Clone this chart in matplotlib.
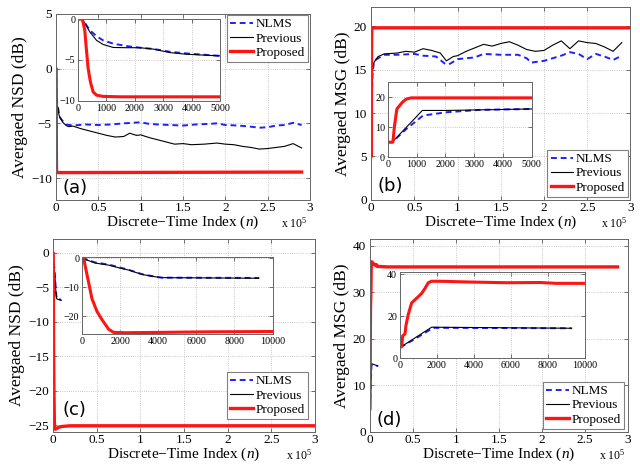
import numpy as np
import matplotlib
matplotlib.use("Agg")
import matplotlib.pyplot as plt
from matplotlib.ticker import FuncFormatter

plt.rcParams['font.family'] = ['Liberation Serif', 'DejaVu Serif']
plt.rcParams['mathtext.fontset'] = 'custom'
plt.rcParams['mathtext.rm'] = 'Liberation Serif'
plt.rcParams['mathtext.it'] = 'Liberation Serif:italic'

# ---- (a) NSD, first scenario ----
a_nlms_n = [0, 150, 410, 650, 880, 1235, 1700, 2175, 2650, 3235, 3820, 4400, 5000, 8000, 12000,
            20000, 35000, 50000, 65000, 80000, 90000, 100000, 110000, 120000, 135000, 150000,
            165000, 180000, 190000, 200000, 215000, 230000, 240000, 250000, 260000, 270000,
            280000, 290000]
a_nlms_v = [0, 0, -1.35, -2.1, -2.6, -3.0, -3.3, -3.5, -3.65, -4.0, -4.2, -4.35, -4.5, -4.8, -5.1,
            -5.2, -5.1, -5.15, -5.1, -5.0, -4.95, -4.9, -5.05, -5.1, -5.15, -5.2,
            -5.1, -5.05, -5.0, -5.15, -5.2, -5.3, -5.4, -5.35, -5.2, -5.15,
            -4.95, -5.15]
a_prev_n = [0, 150, 410, 650, 880, 1235, 1700, 2175, 2650, 3235, 3820, 4400, 5000, 8000, 12000,
            15000, 20000, 30000, 40000, 50000, 60000, 70000, 80000, 87000, 95000, 100000, 110000,
            125000, 140000, 150000, 160000, 175000, 190000, 200000, 210000, 220000, 230000,
            240000, 250000, 260000, 270000, 280000, 290000]
a_prev_v = [0, 0, -1.55, -2.6, -3.1, -3.47, -3.5, -3.5, -3.67, -4.1, -4.3, -4.4, -4.5, -4.9, -5.2,
            -5.3, -5.25, -5.5, -5.7, -5.9, -6.1, -6.25, -6.2, -5.9, -6.1, -6.05, -6.3,
            -6.6, -6.9, -6.85, -6.95, -6.9, -6.8, -6.9, -6.95, -7.1, -7.2,
            -7.35, -7.3, -7.2, -7.1, -6.85, -7.25]
a_prop_n = [0, 150, 235, 295, 353, 435, 530, 650, 880, 1500, 5000, 290000]
a_prop_v = [0, 0, -1.35, -3.8, -6.0, -7.7, -8.9, -9.3, -9.45, -9.5, -9.5, -9.45]

# ---- (b) MSG, first scenario ----
b_nlms_n = [0, 150, 640, 1221, 2035, 3200, 5000, 8000, 15000, 30000, 50000, 60000, 75000, 85000,
            90000, 100000, 120000, 130000, 150000, 170000, 180000, 185000, 200000, 210000,
            220000, 230000, 240000, 250000, 260000, 270000, 280000, 290000]
b_nlms_v = [5, 5, 9.4, 13.9, 15.0, 15.8, 16.1, 16.3, 16.7, 16.7, 16.8, 16.6, 16.5, 15.7,
            15.6, 16.2, 16.4, 16.8, 16.7, 16.7, 16.3, 15.8, 16.0, 16.3,
            16.6, 17.0, 16.8, 16.2, 16.8, 16.5, 16.1, 16.6]
b_prev_n = [0, 150, 1198, 2035, 5000, 8000, 15000, 30000, 40000, 50000, 60000, 70000, 80000,
            87000, 95000, 100000, 110000, 120000, 130000, 140000, 150000, 160000, 170000,
            180000, 190000, 200000, 210000, 220000, 230000, 240000, 250000, 260000, 270000,
            280000, 290000]
b_prev_v = [5, 5, 15.6, 15.6, 16.1, 16.5, 16.8, 16.9, 17.1, 17.0, 17.4, 17.2, 16.9,
            16.0, 16.5, 16.6, 17.1, 17.5, 17.9, 17.7, 18.0, 18.2, 17.8,
            17.3, 17.1, 17.2, 17.8, 18.3, 17.4, 18.3, 18.1, 18.0, 17.6,
            17.1, 18.1]
b_prop_n = [0, 175, 233, 314, 407, 500, 640, 814, 5000, 300000]
b_prop_v = [5, 5, 10.6, 16.1, 17.2, 18.3, 19.4, 19.8, 19.8, 19.8]

# ---- (c) NSD, second scenario ----
c_nlms_n = [0, 700, 1400, 1925, 2450, 3150, 3850, 4200, 9280]
c_nlms_v = [0, -1.5, -2.2, -3.1, -4.0, -5.5, -6.4, -6.7, -6.8]
c_prev_n = [0, 700, 1400, 1925, 2450, 3150, 3850, 4200, 9280]
c_prev_v = [0, -1.7, -2.4, -3.3, -4.1, -5.6, -6.4, -6.7, -6.9]
c_prop_n = [0, 90, 175, 350, 525, 790, 1050, 1400, 1660, 2280, 4030, 6650, 10000, 20000, 300000]
c_prop_v = [0, 0, -2.8, -8.3, -13.9, -18.3, -21.1, -24.4, -25.5, -25.6, -25.5, -25.3, -25.2,
            -25.1, -25.1]

# ---- (d) MSG, second scenario ----
d_nlms_n = [0, 900, 1530, 1800, 9280]
d_nlms_v = [5, 9.6, 13.0, 14.4, 14.2]
d_prev_n = [0, 1710, 9280]
d_prev_v = [5, 14.7, 14.2]
d_prop_n = [0, 90, 145, 270, 325, 450, 630, 900, 1170, 1350, 1530, 1710, 2160, 3960, 5770,
            7570, 8470, 10000, 20000, 288000]
d_prop_v = [5, 5.5, 10.6, 11.5, 15.7, 20.9, 26.3, 28.5, 30.8, 33.2, 35.9, 36.6, 36.6, 36.2, 35.9,
            36.0, 35.6, 35.6, 35.5, 35.5]

labels = ['NLMS', 'Previous', 'Proposed']


def draw_lines(ax, data, red_lw=2.4):
    (nn, nv), (pn, pv), (rn, rv) = data
    ax.plot(nn, nv, color='#1f1fff', ls='--', dashes=(3, 2), lw=1.4, label=labels[0])
    ax.plot(pn, pv, color='black', lw=0.8, label=labels[1])
    ax.plot(rn, rv, color='#ff1414', lw=red_lw, label=labels[2])


def style_axes(ax, size):
    ax.grid(True, ls=':', color='0.72', lw=0.6)
    ax.tick_params(direction='in', top=True, right=True, labelsize=size, length=3,
                   width=0.6, color='0.35', pad=3)
    for s in ax.spines.values():
        s.set_color('0.4')
        s.set_linewidth(0.7)


fig = plt.figure(figsize=(6.4, 4.65), dpi=100)

panels = [
    # main rect, ylim, yticks, inset rect, inset xlim, inset ylim, inset yticks, legend, tag pos
    ([0.0875, 0.570, 0.397, 0.400], (-12, 5), [-10, -5, 0, 5],
     [0.122, 0.783, 0.222, 0.176], 5000, (-10, 0), [-10, -5, 0],
     ('upper right', (0.992, 0.995)), (0.024, 0.016), '(a)', 'Avergaed NSD (dB)',
     [(a_nlms_n, a_nlms_v), (a_prev_n, a_prev_v), (a_prop_n, a_prop_v)]),
    ([0.580, 0.570, 0.405, 0.415], (0, 22.2), [0, 5, 10, 15, 20],
     [0.606, 0.662, 0.225, 0.161], 5000, (0, 25), [0, 10, 20],
     ('lower right', (0.992, 0.016)), (0.023, 0.026), '(b)', 'Avergaed MSG (dB)',
     [(b_nlms_n, b_nlms_v), (b_prev_n, b_prev_v), (b_prop_n, b_prop_v)]),
    ([0.083, 0.071, 0.409, 0.415], (-26, 2), [-25, -20, -15, -10, -5, 0],
     [0.128, 0.282, 0.298, 0.166], 10000, (-26, 0.5), [-20, -10, 0],
     ('lower right', (0.973, 0.067)), (0.034, 0.067), '(c)', 'Avergaed NSD (dB)',
     [(c_nlms_n, c_nlms_v), (c_prev_n, c_prev_v), (c_prop_n, c_prop_v)]),
    ([0.578, 0.071, 0.403, 0.415], (0, 41.5), [0, 10, 20, 30, 40],
     [0.625, 0.230, 0.289, 0.185], 10000, (0, 41), [0, 20, 40],
     ('lower right', (0.984, 0.016)), (0.027, 0.016), '(d)', 'Avergaed MSG (dB)',
     [(d_nlms_n, d_nlms_v), (d_prev_n, d_prev_v), (d_prop_n, d_prop_v)]),
]

xfmt = FuncFormatter(lambda v, p: f'{v / 1e5:g}')

for rect, ylim, yticks, irect, ixmax, iylim, iyticks, leg, tagpos, tag, ylabel, data in panels:
    ax = fig.add_axes(rect)
    draw_lines(ax, data)
    ax.set_xlim(0, 3e5)
    ax.set_ylim(*ylim)
    ax.set_xticks(np.arange(0, 3.01e5, 0.5e5))
    ax.set_yticks(yticks)
    ax.xaxis.set_major_formatter(xfmt)
    style_axes(ax, 9.5)
    ax.tick_params(axis='x', pad=1.5)
    ax.set_xlabel('Discrete\u2212Time Index ($n$)', fontsize=11, labelpad=0)
    ax.set_ylabel(ylabel, fontsize=12.5, labelpad=2)
    ax.text(0.99, -0.085, 'x 10$^5$', transform=ax.transAxes, ha='right', va='top', fontsize=8.5)
    ax.text(tagpos[0], tagpos[1], tag, transform=ax.transAxes, ha='left', va='bottom',
            fontsize=13, family='DejaVu Sans')
    lg = ax.legend(loc=leg[0], bbox_to_anchor=leg[1], fontsize=9.5, fancybox=False,
                   edgecolor='0.5', framealpha=1, borderaxespad=0, handlelength=1.7,
                   handletextpad=0.2, labelspacing=0.15, borderpad=0.25)
    lg.get_frame().set_linewidth(0.8)

    axi = fig.add_axes(irect)
    draw_lines(axi, data, red_lw=2.2)
    axi.set_xlim(0, ixmax)
    axi.set_ylim(*iylim)
    axi.set_xticks(np.arange(0, ixmax + 1, 1000 if ixmax == 5000 else 2000))
    axi.set_yticks(iyticks)
    style_axes(axi, 7.2)
    axi.tick_params(pad=2)

fig.savefig('out.png', dpi=100)
